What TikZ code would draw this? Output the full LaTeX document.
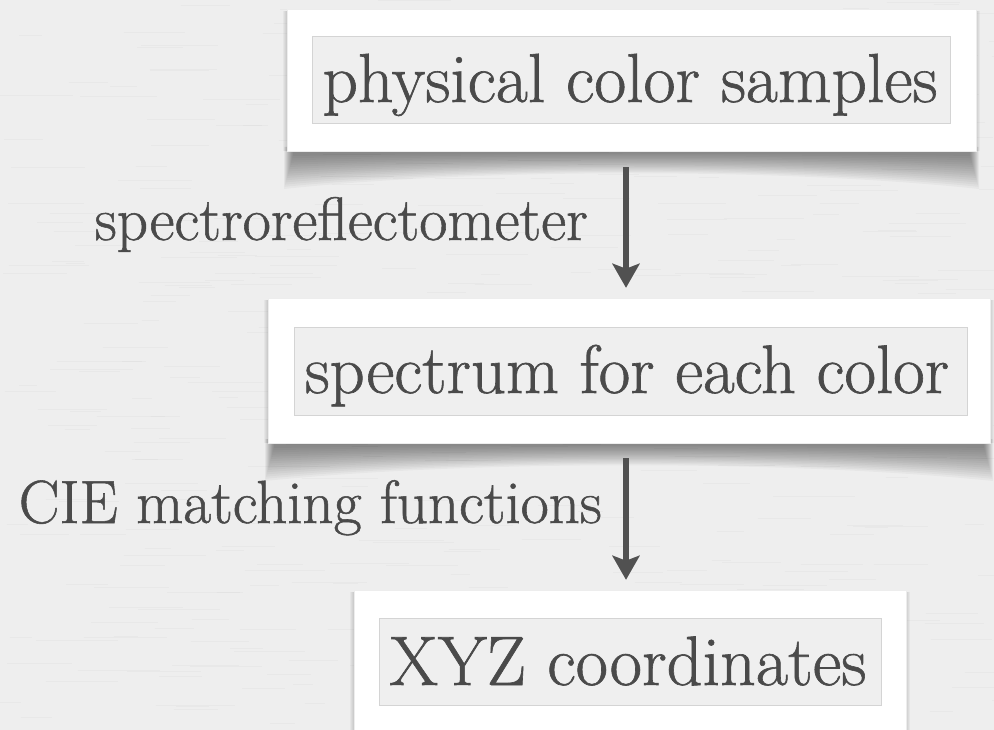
\documentclass[tikz,border=0pt]{standalone}
\usepackage{fontspec}
\usetikzlibrary{arrows.meta}
\newfontfamily\baskish{Latin Modern Roman}[FakeBold=0.9]
\definecolor{paper}{HTML}{EEEEEE}
\definecolor{ink}{HTML}{4A4A4A}
\definecolor{innerfill}{HTML}{EFEFEF}
\definecolor{innerline}{HTML}{D4D4D4}
\definecolor{arrowcol}{HTML}{515151}
\definecolor{grain}{HTML}{D8D8D8}
\newcommand\bigfont{\baskish\fontsize{50pt}{60pt}\selectfont}
\newcommand\curlshadow[3]{%
  \foreach \k in {0,...,15}{%
    \fill[black, opacity=0.03]
      ({#1-3+\k*0.6}, {#3-4}) -- ({#1-3+\k*0.6}, {#3+38-2.2*\k})
      .. controls ({#1+(#2-#1)*0.28}, {#3+17-1.0*\k}) and ({#1+(#2-#1)*0.72}, {#3+17-1.0*\k}) ..
      ({#2+3-\k*0.6}, {#3+38-2.2*\k}) -- ({#2+3-\k*0.6}, {#3-4}) -- cycle;
  }%
}
\newcommand\edgeshadow[4]{%
  \foreach \k in {1,2,3,4}{%
    \fill[black, opacity=0.035] ({#1-\k}, {#2+2}) rectangle ({#3+\k}, {#4});
  }%
}
\begin{document}
\begin{tikzpicture}[x=1pt,y=-1pt,
  outerbox/.style={rectangle, fill=white, draw=white!93!black, line width=0.5pt, inner sep=0pt},
  innerbox/.style={rectangle, fill=innerfill, draw=innerline, line width=0.8pt, inner sep=0pt},
  boxtext/.style={text=ink, anchor=base, inner sep=0pt},
  labeltext/.style={text=ink, anchor=base east, inner sep=0pt},
  flow/.style={draw=arrowcol, line width=6pt, -{Stealth[width=27pt, length=24pt, inset=5pt]}},
  flowshadow/.style={draw=black, opacity=0.16, line width=6pt, -{Stealth[width=27pt, length=24pt, inset=5pt]}, xshift=2.5pt, yshift=-1.5pt}
]
\useasboundingbox (0,0) rectangle (994,730);
\clip (0,0) rectangle (994,730);
\fill[paper] (0,0) rectangle (994,730);
% paper grain
\pgfmathsetseed{7}
\foreach \i in {1,...,450}{%
  \pgfmathsetmacro\xx{rnd*994}%
  \pgfmathsetmacro\yy{rnd*730}%
  \pgfmathsetmacro\ll{15+rnd*70}%
  \draw[grain, opacity=0.25, line width=0.9pt] (\xx,\yy) -- ++(\ll,0);
}
% shadows of the cards
\edgeshadow{287}{9}{976}{151}
\curlshadow{287}{976}{151}
\edgeshadow{268}{298}{990}{443}
\curlshadow{268}{990}{443}
\edgeshadow{354}{590}{906}{740}

% cards
\node[outerbox, minimum width=689pt, minimum height=142pt] (box1) at (631.5,80) {};
\node[innerbox, minimum width=638pt, minimum height=87pt] (in1) at (631,79.5) {};
\node[boxtext] (t1) at (630,102) {\resizebox{615pt}{!}{\bigfont physical color samples}};

\node[outerbox, minimum width=722pt, minimum height=145pt] (box2) at (629,370.5) {};
\node[innerbox, minimum width=673pt, minimum height=88pt] (in2) at (630.5,371) {};
\node[boxtext] (t2) at (627,393) {\resizebox{644pt}{!}{\bigfont spectrum for each color}};

\node[outerbox, minimum width=552pt, minimum height=150pt] (box3) at (630,665) {};
\node[innerbox, minimum width=502pt, minimum height=87pt] (in3) at (630,661.5) {};
\node[boxtext] (t3) at (628,685) {\resizebox{477pt}{!}{\bigfont XYZ coordinates}};

% labels
\node[labeltext] (l1) at (588,240) {\resizebox{493pt}{!}{\bigfont spectroreflectometer}};
\node[labeltext] (l2) at (602,523) {\resizebox{583pt}{!}{\bigfont CIE matching functions}};

% arrows
\coordinate (ax) at (626,0);
\draw[flowshadow, shorten <=16pt, shorten >=10pt] (box1.south -| ax) -- (box2.north -| ax);
\draw[flow, shorten <=16pt, shorten >=10pt] (box1.south -| ax) -- (box2.north -| ax);
\draw[flowshadow, shorten <=15pt, shorten >=10pt] (box2.south -| ax) -- (box3.north -| ax);
\draw[flow, shorten <=15pt, shorten >=10pt] (box2.south -| ax) -- (box3.north -| ax);
\end{tikzpicture}
\end{document}
